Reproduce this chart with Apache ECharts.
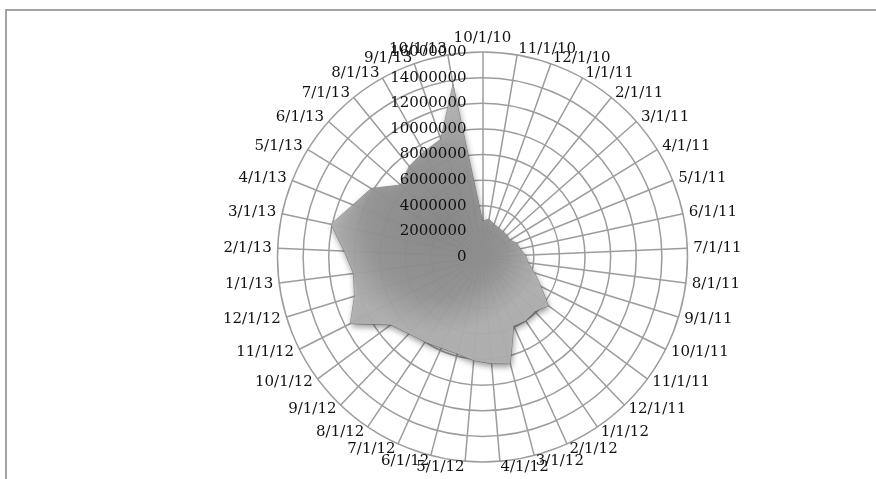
<!DOCTYPE html>
<html>
<head>
<meta charset="utf-8">
<script src="https://cdn.jsdelivr.net/npm/echarts@6/dist/echarts.min.js"></script>
<style>
  html, body { margin: 0; padding: 0; background: #fff; }
  #frame { position: absolute; left: 5px; top: 9px; width: 890px; height: 490px;
           border-top: 2px solid #a3a3a3; border-left: 2px solid #a3a3a3; }
  #chart { position: absolute; left: 0; top: 0; width: 876px; height: 479px; }
</style>
</head>
<body>
<div id="frame"></div>
<div id="chart"></div>
<script>
// Monthly periods, Oct 2010 – Oct 2013
const months = [
  '10/1/10', '11/1/10', '12/1/10',
  '1/1/11', '2/1/11', '3/1/11', '4/1/11', '5/1/11', '6/1/11',
  '7/1/11', '8/1/11', '9/1/11', '10/1/11', '11/1/11', '12/1/11',
  '1/1/12', '2/1/12', '3/1/12', '4/1/12', '5/1/12', '6/1/12',
  '7/1/12', '8/1/12', '9/1/12', '10/1/12', '11/1/12', '12/1/12',
  '1/1/13', '2/1/13', '3/1/13', '4/1/13', '5/1/13', '6/1/13',
  '7/1/13', '8/1/13', '9/1/13', '10/1/13'
];

// Monthly totals
const totals = [
  2800000, 3000000, 2700000,
  2600000, 2550000, 2550000, 2500000, 2900000, 3000000,
  3350000, 3600000, 4250000, 5100000, 6400000, 5900000,
  6000000, 5900000, 8600000, 8350000, 8100000, 7800000,
  7800000, 8000000, 8300000, 8900000, 11550000, 10450000,
  10150000, 10800000, 12100000, 10900000, 10200000, 8500000,
  9100000, 9400000, 9750000, 13650000
];

// Radial scale ticks
const radialTicks = [0, 2000000, 4000000, 6000000, 8000000, 10000000, 12000000, 14000000, 16000000];

const FONT = 'DejaVu Serif';
const GRID = '#9c9c9c';
const radialMax = radialTicks[radialTicks.length - 1];

// Radar lays indicators out counter-clockwise; reorder so months run clockwise from the top.
const order = months.map((_, k) => (months.length - k) % months.length);
const cwMonths = order.map(i => months[i]);
const cwTotals = order.map(i => totals[i]);

const gridIndicators = cwMonths.map(m => ({ name: m, min: 0, max: radialMax }));
const scaleIndicators = cwMonths.map((m, k) => {
  const ind = { name: '', min: 0, max: radialMax };
  if (k === 0) {
    ind.axisLabel = {
      show: true,
      color: '#111',
      fontFamily: FONT,
      fontSize: 15,
      margin: 16,
      showMinLabel: true,
      showMaxLabel: true,
      formatter: v => String(v)
    };
  }
  return ind;
});

const common = {
  center: [482.5, 257],
  radius: 205,
  startAngle: 90,
  shape: 'circle',
  splitNumber: radialTicks.length - 1
};

const chart = echarts.init(document.getElementById('chart'), null, { renderer: 'canvas' });
chart.setOption({
  animation: false,
  backgroundColor: 'transparent',
  radar: [
    Object.assign({}, common, {
      z: 0,
      indicator: gridIndicators,
      nameGap: 6,
      axisName: { color: '#111', fontFamily: FONT, fontSize: 15 },
      axisLabel: { show: false },
      axisTick: { show: false },
      axisLine: { lineStyle: { color: GRID, width: 1.5 } },
      splitLine: { lineStyle: { color: GRID, width: 1.5 } },
      splitArea: { show: false }
    }),
    Object.assign({}, common, {
      z: 5,
      indicator: scaleIndicators,
      axisName: { show: false },
      axisLabel: { show: false },
      axisTick: { show: false },
      axisLine: { show: false },
      splitLine: { show: false },
      splitArea: { show: false }
    })
  ],
  series: [{
    type: 'radar',
    radarIndex: 0,
    symbol: 'none',
    z: 2,
    lineStyle: { width: 0.8, color: '#858585' },
    areaStyle: {
      opacity: 0.94,
      color: {
        type: 'radial', x: 0.5, y: 0.5, r: 0.5,
        colorStops: [
          { offset: 0, color: '#878787' },
          { offset: 0.65, color: '#949494' },
          { offset: 1, color: '#b0b0b0' }
        ]
      },
      shadowBlur: 6,
      shadowOffsetY: 3,
      shadowOffsetX: 1,
      shadowColor: 'rgba(0,0,0,0.45)'
    },
    data: [{ value: cwTotals, name: 'Total' }]
  }]
});
</script>
</body>
</html>
